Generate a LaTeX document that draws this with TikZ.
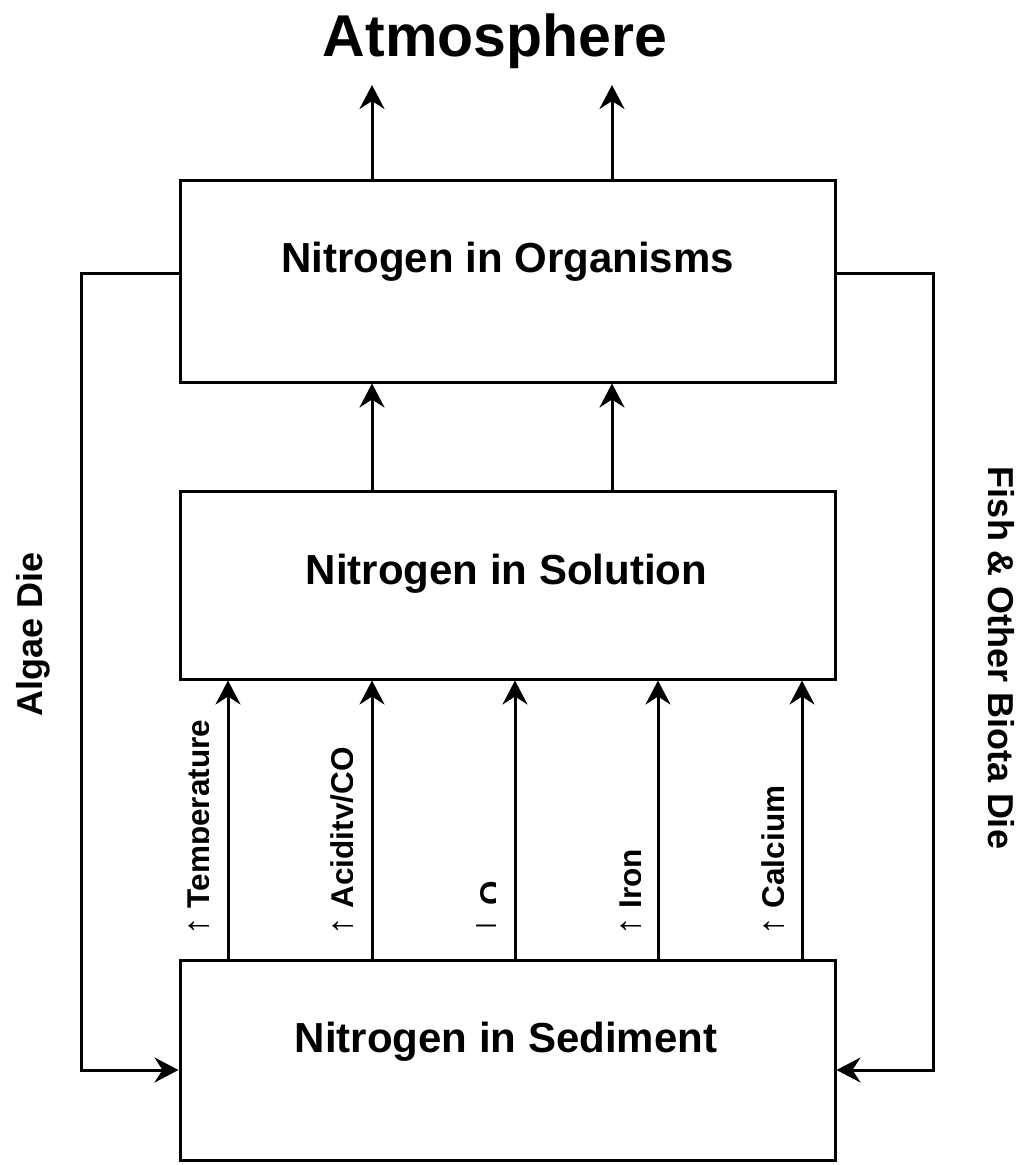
\documentclass[tikz,border=0pt]{standalone}
\usepackage{fontspec}
\setmainfont{Liberation Sans}
\usetikzlibrary{arrows.meta}
\newcommand{\uparr}{{\fontsize{37}{37}\selectfont ↑}}
\newcommand{\dnarr}{{\fontsize{46}{46}\selectfont ↓}}
\begin{document}
\begin{tikzpicture}[x=1pt,y=-1pt,
  line width=3pt,
  arr/.style={-{Stealth[length=24pt,width=25pt,inset=8pt]}},
  box/.style={draw, line width=3pt, minimum width=655pt, inner sep=0pt},
  boxtext/.style={font=\bfseries\fontsize{42}{46}\selectfont, anchor=base, inner sep=0pt},
  sidetext/.style={font=\bfseries\fontsize{36}{40}\selectfont, anchor=base, inner sep=0pt},
  factor/.style={font=\bfseries\fontsize{31.5}{34}\selectfont, rotate=90, anchor=base west, inner sep=0pt}]
\useasboundingbox (0,0) rectangle (1023,1165);
% boxes
\node[box, minimum height=202pt] (org) at (507.5,281) {};
\node[box, minimum height=188pt] (sol) at (507.5,585) {};
\node[box, minimum height=200pt] (sed) at (507.5,1060) {};
\node[boxtext] (orgt) at (507.5,272) {Nitrogen in Organisms};
\node[boxtext] (solt) at (506.5,584) {Nitrogen in Solution};
\node[boxtext] (sedt) at (506,1052) {Nitrogen in Sediment};
\node[font=\bfseries\fontsize{59}{62}\selectfont, anchor=base, inner sep=0pt] (atm) at (495,56) {Atmosphere};
% reference coordinates
\coordinate (t1) at (372,85);
\coordinate (t2) at (612,85);
\coordinate (f1) at (228,0);
\coordinate (f2) at (372,0);
\coordinate (f3) at (515,0);
\coordinate (f4) at (658,0);
\coordinate (f5) at (802,0);
% arrows to atmosphere
\draw[arr] (org.north -| t1) -- (t1);
\draw[arr] (org.north -| t2) -- (t2);
% solution to organisms
\draw[arr] (sol.north -| t1) -- (org.south -| t1);
\draw[arr] (sol.north -| t2) -- (org.south -| t2);
% sediment to solution
\foreach \f in {f1,f2,f3,f4,f5}{
  \draw[arr] (sed.north -| \f) -- (sol.south -| \f);
}
% side loops
\draw[arr] ([yshift=8pt]org.west) -- ++(-97,0) |- ([yshift=-10pt]sed.west);
\draw[arr] ([yshift=8pt]org.east) -- ++(97,0) |- ([yshift=-10pt]sed.east);
\node[sidetext, rotate=90] (algae) at (42,634) {Algae Die};
\node[sidetext, rotate=-90] (fish) at (988,658) {Fish \& Other Biota Die};
% factor labels (clipped)
\begin{scope}
\clip (150,690) rectangle (208,945);
\node[factor] (temp) at (209,937) {\uparr\ Temperature};
\end{scope}
\begin{scope}
\clip (300,690) rectangle (352,945);
\node[factor] (acid) at (353,937) {\uparr\ Acidity/CO};
\end{scope}
\begin{scope}
\clip (440,690) rectangle (495,945);
\node[factor] (oxy) at (502,939) {\dnarr\ O};
\end{scope}
\begin{scope}
\clip (590,690) rectangle (640,945);
\node[factor] (iron) at (641,937) {\uparr\ Iron};
\end{scope}
\begin{scope}
\clip (730,690) rectangle (783,945);
\node[factor] (calc) at (784,937) {\uparr\ Calcium};
\end{scope}
\end{tikzpicture}
\end{document}
